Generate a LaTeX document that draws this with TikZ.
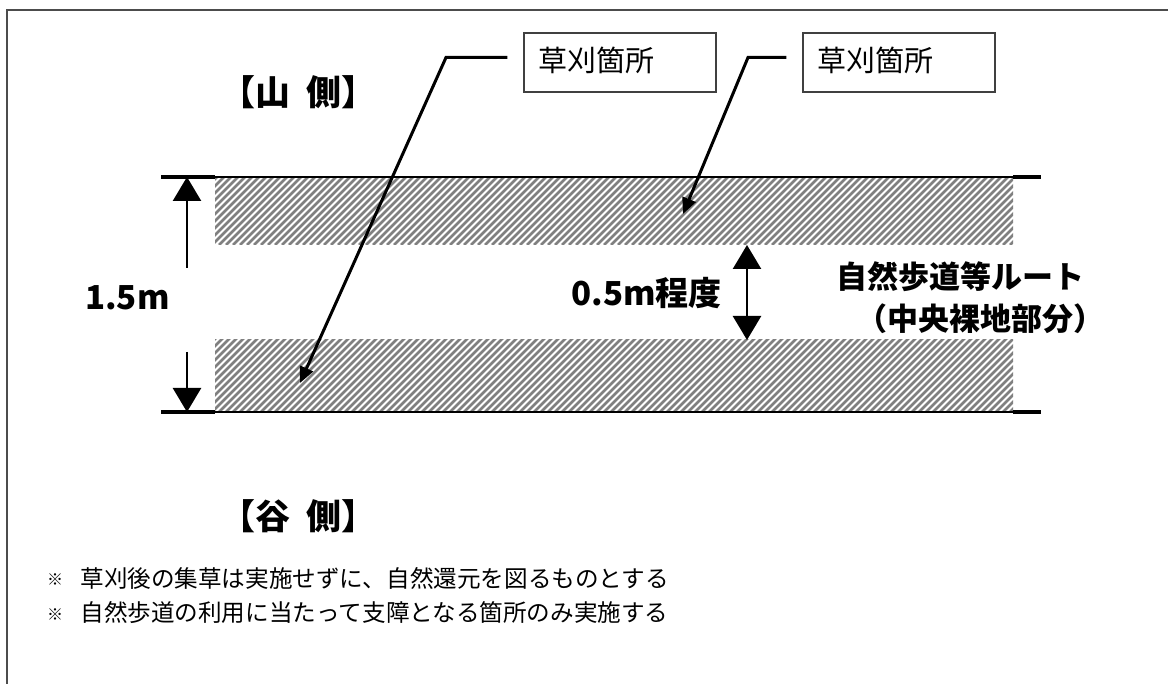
\documentclass[tikz,border=0pt]{standalone}
\usepackage{fontspec}
\newfontfamily\jp{Noto Sans CJK JP}
\usetikzlibrary{arrows.meta,positioning}
\tikzset{
	frame/.style={draw=black!70, line width=0.8pt},
	hatch/.style={draw=black!50, line width=1.3pt},
	rim/.style={line width=1pt},
	stub/.style={line width=2pt},
	dim/.style={line width=1.3pt, -{Triangle[length=12pt,width=14pt]}},
	dimboth/.style={line width=1.3pt, {Triangle[length=12pt,width=14pt]}-{Triangle[length=12pt,width=14pt]}},
	lead/.style={line width=1.5pt, -{Triangle[length=8pt,width=7pt]}},
	tag/.style={draw=black!75, line width=0.6pt, inner xsep=7pt, inner ysep=4pt,
		text width=82pt, align=left, text height=15.5pt, text depth=6pt,
		font=\jp\fontsize{14.5}{14.5}\selectfont},
	big/.style={inner sep=0pt, font=\jp\bfseries\fontsize{16.5}{21}\selectfont},
	side/.style={inner sep=0pt, font=\jp\bfseries\fontsize{17.5}{21}\selectfont},
	route/.style={inner sep=0pt, font=\jp\bfseries\fontsize{15.5}{21}\selectfont},
	note/.style={inner sep=0pt, anchor=west, font=\jp\fontsize{11.8}{11.8}\selectfont},
	kome/.style={inner sep=0pt, font=\jp\fontsize{8}{8}\selectfont}
}
\begin{document}
\begin{tikzpicture}[x=0.5pt,y=-0.5pt]
	\useasboundingbox (0,0) rectangle (1168,684);
	\draw[frame] (1168,10) -- (7,10) -- (7,684);
	
	% hatched strips
	\foreach \ya/\yb in {177/245,340/412}{
		\begin{scope}
			\clip (215,\ya) rectangle (1013,\yb);
			\foreach \k in {0,...,126}
				\draw[hatch] ({135+7*\k},\yb) -- ++(80,-80);
		\end{scope}
	}
	
	% route edges
	\draw[rim] (215,177) -- (1013,177) (215,412) -- (1013,412);
	\draw[stub] (161,177) -- (215,177) (1013,177) -- (1041,177);
	\draw[stub] (161,412) -- (215,412) (1013,412) -- (1041,412);
	
	% widths
	\coordinate (wtop) at (187,177);
	\coordinate (wbot) at (187,412);
	\coordinate (wup) at (187,268);
	\coordinate (wdown) at (187,352);
	\node[big, anchor=east] (wide) at (170,298) {1.5m};
	\draw[dim] (wup) -- (wtop);
	\draw[dim] (wdown) -- (wbot);
	
	\coordinate (mtop) at (747,245);
	\coordinate (mbot) at (747,340);
	\draw[dimboth] (mtop) -- (mbot);
	\node[big, anchor=east] (narrow) at (722,293) {0.5m程度};
	
	\node[route, anchor=west, align=left] (route) at (836,298) {自然歩道等ルート\\\hspace{10pt}（中央裸地部分）};
	
	\node[side, anchor=west] (yama) at (220,92) {【山\hspace{0.45em}側】};
	\node[side, anchor=west] (tani) at (220,516) {【谷\hspace{0.45em}側】};
	
	% labels with leaders
	\node[tag] (tagA) at (620,62.5) {草刈箇所};
	\node[tag] (tagB) at (899,62.5) {草刈箇所};
	\coordinate (bendA) at (446,57.5);
	\coordinate (tipA) at (300,383);
	\coordinate (bendB) at (748,57.5);
	\coordinate (tipB) at (683,214);
	\draw[lead] ([shift={(-16,-5)}]tagA.west) -- (bendA) -- (tipA);
	\draw[lead] ([shift={(-16,-5)}]tagB.west) -- (bendB) -- (tipB);
	
	% notes
	\node[kome] (komeA) at (55,580) {※};
	\node[kome] (komeB) at (55,615) {※};
	\node[note] (noteA) at (80,578) {草刈後の集草は実施せずに、自然還元を図るものとする};
	\node[note] (noteB) at (80,613) {自然歩道の利用に当たって支障となる箇所のみ実施する};
\end{tikzpicture}
\end{document}
